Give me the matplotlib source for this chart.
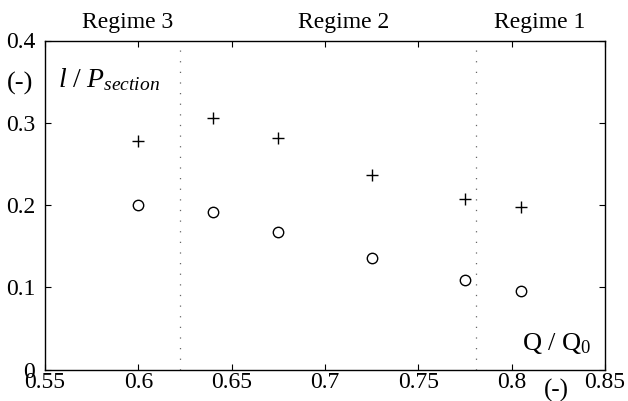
import matplotlib
matplotlib.use("Agg")
import matplotlib.pyplot as plt

x_vals = [0.6, 0.64, 0.675, 0.725, 0.775, 0.805]
plus_vals = [0.278, 0.306, 0.281, 0.237, 0.207, 0.198]
circle_vals = [0.200, 0.192, 0.167, 0.136, 0.109, 0.095]
regime_bounds = [0.6225, 0.781]
regime_labels = ["Regime 3", "Regime 2", "Regime 1"]
regime_label_x = [0.594, 0.710, 0.815]
x_ticks = [0.55, 0.6, 0.65, 0.7, 0.75, 0.8, 0.85]
x_tick_labels = ["0.55", "0.6", "0.65", "0.7", "0.75", "0.8", "0.85"]
y_ticks = [0, 0.1, 0.2, 0.3, 0.4]
y_tick_labels = ["0", "0.1", "0.2", "0.3", "0.4"]

plt.rcParams['font.family'] = ['Liberation Serif', 'DejaVu Serif']
plt.rcParams['mathtext.fontset'] = 'custom'
plt.rcParams['mathtext.rm'] = 'Liberation Serif'
plt.rcParams['mathtext.it'] = 'Liberation Serif:italic'

fig = plt.figure(figsize=(6.28, 4.01), dpi=100)
ax = fig.add_axes([45/628, 1-369.5/401, 560/628, 329/401])

ax.plot(x_vals, plus_vals, linestyle='none', marker='+', color='black',
        markersize=8, markeredgewidth=1.0)
ax.plot(x_vals, circle_vals, linestyle='none', marker='o', markerfacecolor='none',
        markeredgecolor='black', markersize=7.5, markeredgewidth=1.0)

for b in regime_bounds:
    ax.axvline(b, color='#666666', linestyle=(0, (1, 7.5)), linewidth=0.9)

ax.set_xlim(0.55, 0.85)
ax.set_ylim(0, 0.4)
ax.set_xticks(x_ticks)
ax.set_xticklabels(x_tick_labels)
ax.set_yticks(y_ticks)
ax.set_yticklabels(y_tick_labels)
ax.tick_params(direction='in', length=4, width=0.8, top=True, right=True,
               labelsize=17)
ax.tick_params(axis='x', pad=2)
ax.tick_params(axis='y', pad=7)
for s in ax.spines.values():
    s.set_linewidth(1.0)

for lab, xl in zip(regime_labels, regime_label_x):
    ax.text(xl, 1.022, lab, transform=ax.get_xaxis_transform(),
            ha='center', va='bottom', fontsize=17)

fig.text(20/628, 1-83/401, "(-)", ha='center', va='center', fontsize=19)
ax.text(0.557, 0.352, r"$l\ /\ P_{section}$", ha='left', va='center', fontsize=20)
ax.text(0.8425, 0.032, r"Q / Q$_0$", ha='right', va='center', fontsize=19)
fig.text(556/628, 1-390/401, "(-)", ha='center', va='center', fontsize=18)

fig.savefig("out.png", dpi=100)
